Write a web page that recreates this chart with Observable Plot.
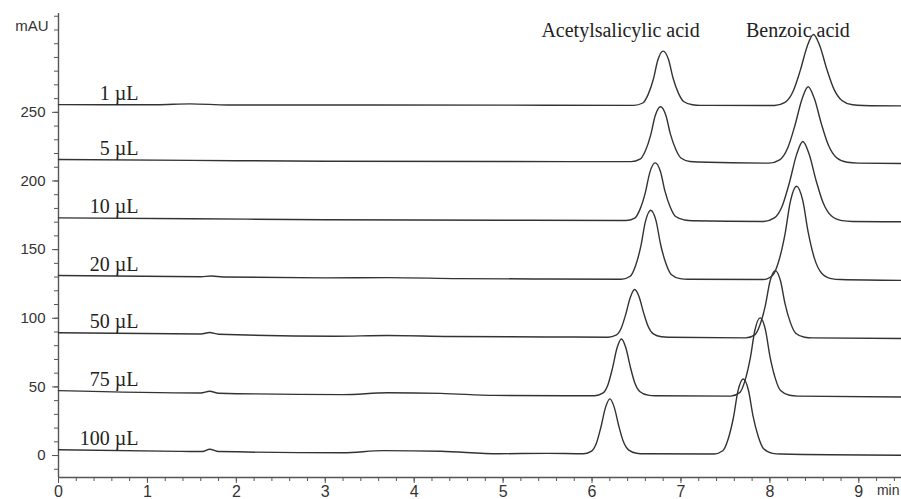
<!DOCTYPE html>
<html>
<head>
<meta charset="utf-8">
<script src="https://cdn.jsdelivr.net/npm/d3@7"></script>
<script src="https://cdn.jsdelivr.net/npm/@observablehq/plot@0.6"></script>
<style>
  html, body { margin: 0; padding: 0; background: #fff; }
  #chart { width: 901px; height: 499px; overflow: hidden; }
</style>
</head>
<body>
<div id="chart"></div>
<script>
// ---- data: [time (min), signal (mAU)] ----
const sampleLabels = ["1 µL", "5 µL", "10 µL", "20 µL", "50 µL", "75 µL", "100 µL"];

const trace_1uL = [
  [0,255.6],[1.1,255.5],[1.48,256.2],[1.9,255.4],[3.5,255.3],[5.5,255.2],
  [6.47,255.1],[6.57,256.8],[6.63,262.9],[6.69,274.3],[6.74,288.1],[6.80,294.6],[6.86,288.5],[6.91,275.2],[6.97,264.2],[7.03,257.9],[7.13,255.5],[7.22,255.1],
  [8.05,255.0],[8.17,257.3],[8.26,265.2],[8.34,280.2],[8.42,298.2],[8.49,306.7],[8.56,298.7],[8.64,281.4],[8.72,266.9],[8.81,258.6],[8.93,255.5],[9.05,255.0],
  [9.48,254.7]
];
const trace_5uL = [
  [0,215.6],[1.5,215.0],[3.0,214.4],[5.0,214.2],
  [6.44,214.1],[6.54,215.9],[6.60,222.0],[6.66,233.6],[6.71,247.5],[6.77,254.1],[6.83,247.9],[6.88,234.5],[6.94,223.3],[7.00,216.7],[7.10,214.2],[7.19,213.8],
  [7.99,213.0],[8.11,215.4],[8.20,224.0],[8.28,240.1],[8.36,259.4],[8.43,268.6],[8.50,260.0],[8.58,241.4],[8.66,225.8],[8.75,216.9],[8.87,213.6],[8.99,213.0],
  [9.48,212.7]
];
const trace_10uL = [
  [0,173.1],[1.5,172.5],[3.0,171.8],[5.0,171.4],
  [6.38,171.2],[6.48,173.0],[6.54,179.5],[6.60,191.7],[6.65,206.3],[6.71,213.2],[6.77,206.7],[6.82,192.6],[6.88,180.9],[6.94,174.1],[7.04,171.6],[7.13,171.0],
  [7.93,170.5],[8.05,173.1],[8.14,182.0],[8.22,198.9],[8.30,219.2],[8.37,228.8],[8.44,219.8],[8.52,200.2],[8.60,183.9],[8.69,174.6],[8.81,171.1],[8.93,170.5],
  [9.48,170.3]
];
const trace_20uL = [
  [0,131.1],[1.6,130.2],[1.72,130.8],[1.85,130.1],[3.0,129.4],[3.7,129.6],[4.5,128.9],[5.5,128.6],
  [6.33,128.4],[6.43,130.6],[6.49,138.4],[6.55,152.9],[6.60,170.4],[6.66,178.7],[6.72,170.9],[6.77,154.1],[6.83,140.0],[6.89,131.9],[6.99,128.9],[7.08,128.4],
  [7.92,128.2],[8.03,131.2],[8.10,141.7],[8.17,161.3],[8.23,185.0],[8.30,196.2],[8.37,185.7],[8.43,162.9],[8.50,143.8],[8.58,133.0],[8.69,128.9],[8.80,128.2],
  [9.48,127.6]
];
const trace_50uL = [
  [0,89.4],[1.6,88.5],[1.70,89.6],[1.8,88.4],[3.1,86.9],[3.7,87.4],[4.4,86.7],[5.5,86.4],
  [6.18,86.2],[6.27,87.7],[6.33,93.1],[6.38,103.1],[6.43,115.2],[6.48,120.9],[6.53,115.5],[6.58,103.9],[6.63,94.2],[6.69,88.6],[6.78,86.5],[6.86,86.2],
  [7.73,85.7],[7.83,87.9],[7.89,95.4],[7.95,109.6],[8.00,126.6],[8.06,134.7],[8.12,127.1],[8.17,110.7],[8.23,97.0],[8.29,89.1],[8.39,86.2],[8.48,85.7],
  [9.48,85.2]
];
const trace_75uL = [
  [0,47.3],[1.6,45.6],[1.70,46.8],[1.8,45.4],[3.2,44.4],[3.7,45.7],[4.3,45.3],[4.9,43.8],[5.7,43.5],
  [6.03,43.6],[6.12,45.4],[6.18,51.8],[6.23,63.7],[6.28,78.1],[6.33,84.9],[6.38,78.5],[6.43,64.7],[6.48,53.1],[6.54,46.5],[6.63,44.0],[6.71,43.6],
  [7.56,43.3],[7.66,45.8],[7.72,54.6],[7.78,71.1],[7.83,90.9],[7.89,100.3],[7.95,91.5],[8.00,72.4],[8.06,56.4],[8.12,47.3],[8.22,43.9],[8.31,43.3],
  [9.48,42.6]
];
const trace_100uL = [
  [0,4.2],[1.37,3.0],[1.62,2.9],[1.70,4.6],[1.8,2.9],[3.2,2.0],[3.65,3.6],[4.3,3.1],[4.95,1.3],[5.5,1.6],
  [5.90,1.3],[5.99,3.1],[6.05,9.2],[6.10,20.8],[6.15,34.7],[6.20,41.3],[6.25,35.1],[6.30,21.7],[6.35,10.5],[6.41,4.1],[6.50,1.7],[6.58,1.3],
  [7.37,1.1],[7.47,3.5],[7.53,11.9],[7.59,27.7],[7.64,46.7],[7.70,55.7],[7.76,47.2],[7.81,28.9],[7.87,13.7],[7.93,4.9],[8.03,1.6],[8.12,1.1],
  [9.48,0.2]
];

const compoundLabels = ["Acetylsalicylic acid", "Benzoic acid"];
const compoundLabelTimes = [6.32, 8.315];

const xMajorTicks = [0, 1, 2, 3, 4, 5, 6, 7, 8, 9];
const yMajorTicks = [0, 50, 100, 150, 200, 250];
const xUnit = "min";
const yUnit = "mAU";
const sampleLabelTime = 0.9;

// ---- build table ----
const traces = [trace_1uL, trace_5uL, trace_10uL, trace_20uL, trace_50uL, trace_75uL, trace_100uL];
const rows = traces.flatMap((pts, i) => pts.map(([t, v]) => ({sample: sampleLabels[i], t, v})));
const labelRows = traces.map((pts, i) => ({text: sampleLabels[i], t: sampleLabelTime, v: pts[0][1]}));
const compoundRows = compoundLabels.map((text, i) => ({text, t: compoundLabelTimes[i]}));
const xDomain = [0, 9.48];
const yDomain = [-16, 322];
const xMinorTicks = d3.range(0, 48).map(i => i / 5);
const yMinorTicks = d3.range(-1, 33).map(i => i * 10);

const serif = "'Liberation Serif', 'Times New Roman', serif";
const axisColor = "#555";

const chart = Plot.plot({
  width: 901,
  height: 499,
  marginLeft: 58,
  marginRight: 0,
  marginTop: 13,
  marginBottom: 22,
  x: {domain: xDomain, label: null},
  y: {domain: yDomain, label: null},
  style: {fontFamily: "'Liberation Sans', Arial, sans-serif", fontSize: "15px", color: "#333", background: "#fff", overflow: "hidden"},
  marks: [
    Plot.axisY(yMinorTicks, {tickSize: 4, tickFormat: () => "", stroke: axisColor}),
    Plot.axisY(yMajorTicks, {tickSize: 6, tickPadding: 7, fontSize: 15, stroke: axisColor, fill: "#333"}),
    Plot.axisX(xMinorTicks, {tickSize: 4, tickFormat: () => "", stroke: axisColor}),
    Plot.axisX(xMajorTicks, {tickSize: 6, tickPadding: 2, fontSize: 16, stroke: axisColor, fill: "#333"}),
    Plot.ruleX([xDomain[0]], {stroke: axisColor, strokeWidth: 1.4}),
    Plot.ruleY([yDomain[0]], {stroke: axisColor, strokeWidth: 1.4}),
    Plot.line(rows, {x: "t", y: "v", z: "sample", curve: "monotone-x", stroke: "#333", strokeWidth: 1.4}),
    Plot.text(labelRows, {x: "t", y: "v", text: "text", textAnchor: "end", lineAnchor: "bottom", dy: -5, fontFamily: serif, fontSize: 20, fill: "#222"}),
    Plot.text(compoundRows, {x: "t", text: "text", frameAnchor: "top", lineAnchor: "bottom", dy: 23, fontFamily: serif, fontSize: 20, fill: "#222"}),
    Plot.text([yUnit], {frameAnchor: "top-left", text: d => d, textAnchor: "end", lineAnchor: "middle", dx: -10, dy: 13, fontSize: 15, fill: "#333"}),
    Plot.text([xUnit], {frameAnchor: "bottom-right", text: d => d, textAnchor: "end", lineAnchor: "top", dx: -2, dy: 8, fontSize: 14, fill: "#333"})
  ]
});
document.getElementById("chart").appendChild(chart);
</script>
</body>
</html>
